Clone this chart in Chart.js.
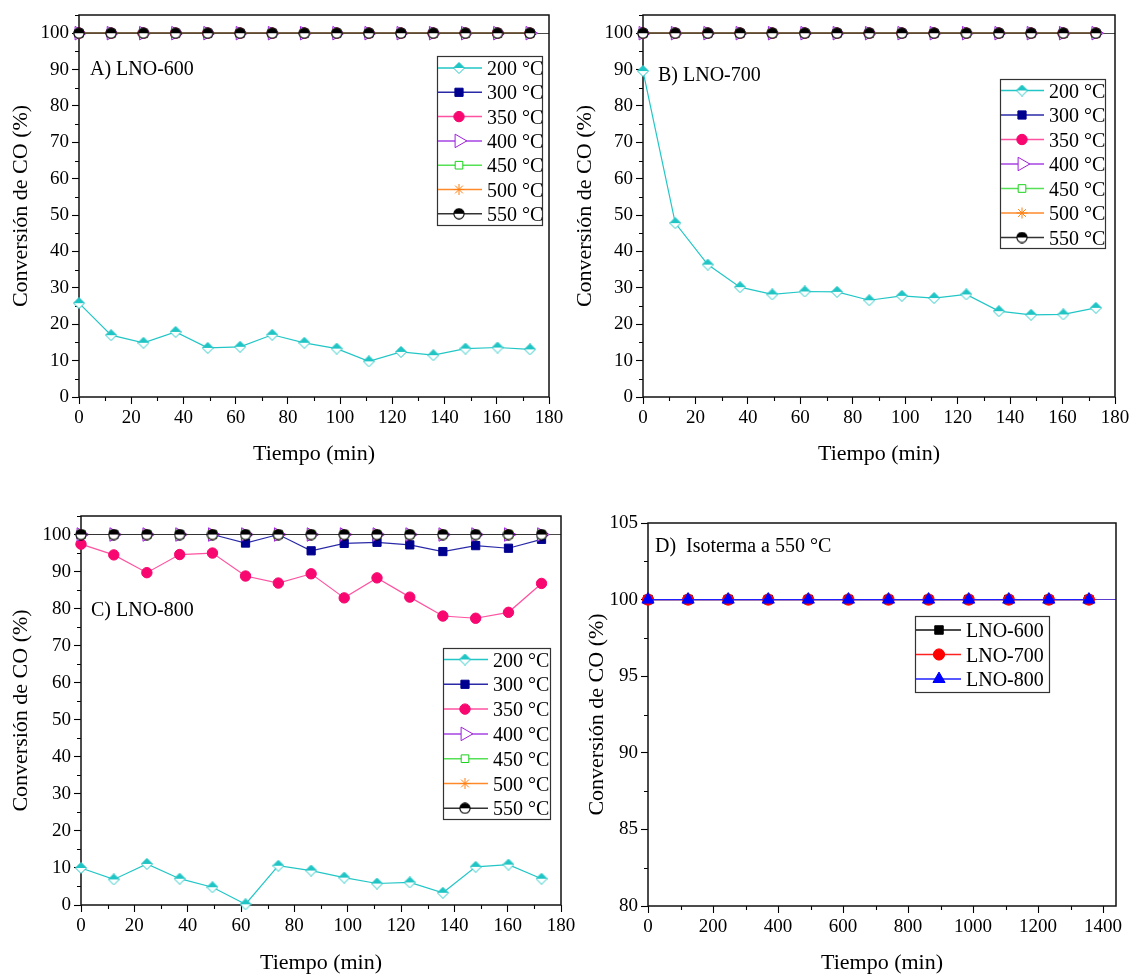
<!DOCTYPE html>
<html lang="es">
<head>
<meta charset="utf-8">
<title>Conversión de CO</title>
<script src="https://cdn.jsdelivr.net/npm/chart.js@4.4.1/dist/chart.umd.min.js"></script>
<style>
  html, body { margin: 0; padding: 0; background: #fff; width: 1133px; height: 975px; overflow: hidden; }
  canvas { position: absolute; }
</style>
</head>
<body>
<canvas id="panelA" width="575" height="480" style="left:0px;top:0px"></canvas>
<canvas id="panelB" width="600" height="480" style="left:566px;top:0px"></canvas>
<canvas id="panelC" width="580" height="520" style="left:0px;top:480px"></canvas>
<canvas id="panelD" width="600" height="520" style="left:566px;top:480px"></canvas>
<script>
// ---- Datos ----
const tiempo = [0, 12.3, 24.7, 37.0, 49.3, 61.7, 74.0, 86.3, 98.7, 111.0, 123.3, 135.7, 148.0, 160.3, 172.7];
const tiempoIsoterma = [0, 123.3, 246.7, 370.0, 493.3, 616.7, 740.0, 863.3, 986.7, 1110.0, 1233.3, 1356.7];

const temperaturas = ['200 °C', '300 °C', '350 °C', '400 °C', '450 °C', '500 °C', '550 °C'];
const muestras = ['LNO-600', 'LNO-700', 'LNO-800'];

// conversión completa (100 %) en cada medida
const conversionTotal = [100, 100, 100, 100, 100, 100, 100, 100, 100, 100, 100, 100, 100, 100, 100];
const conversionTotalIsoterma = [100, 100, 100, 100, 100, 100, 100, 100, 100, 100, 100, 100];

const lno600_200 = [25.8, 17.0, 14.9, 17.9, 13.5, 13.8, 17.1, 14.9, 13.3, 9.8, 12.4, 11.5, 13.3, 13.6, 13.1];
const lno700_200 = [89.6, 47.8, 36.4, 30.2, 28.2, 29.0, 28.9, 26.6, 27.8, 27.2, 28.2, 23.6, 22.6, 22.7, 24.5];
const lno800_200 = [10.0, 6.9, 11.1, 7.1, 4.8, 0.2, 10.6, 9.3, 7.4, 5.8, 6.1, 3.3, 10.3, 10.9, 7.1];
const lno800_300 = [100, 100, 100, 100, 100, 97.7, 100, 95.6, 97.6, 97.9, 97.2, 95.4, 97.0, 96.3, 98.7];
const lno800_350 = [97.4, 94.5, 89.7, 94.6, 95.0, 88.8, 86.9, 89.4, 82.9, 88.3, 83.1, 78.0, 77.4, 79.0, 86.8];

// ---- Ejes ----
const ticksTiempo = [0, 20, 40, 60, 80, 100, 120, 140, 160, 180];
const ticksTiempoMenores = [10, 30, 50, 70, 90, 110, 130, 150, 170];
const ticksConversion = [0, 10, 20, 30, 40, 50, 60, 70, 80, 90, 100];
const ticksConversionMenores = [5, 15, 25, 35, 45, 55, 65, 75, 85, 95, 105];
const ticksIsoterma = [0, 200, 400, 600, 800, 1000, 1200, 1400];
const ticksIsotermaMenores = [100, 300, 500, 700, 900, 1100, 1300];
const ticksConversionD = [80, 85, 90, 95, 100, 105];
const ticksConversionDMenores = [82.5, 87.5, 92.5, 97.5, 102.5];

// ---- Marcadores semirrellenos ----
function marcaDiamante(color) {
  const c = document.createElement('canvas');
  c.width = 12; c.height = 12;
  const g = c.getContext('2d');
  const m = 6, r = 5.5;
  g.beginPath();
  g.moveTo(m, m - r); g.lineTo(m + r, m); g.lineTo(m, m + r); g.lineTo(m - r, m); g.closePath();
  g.fillStyle = '#fff'; g.fill();
  g.save(); g.clip(); g.fillStyle = color; g.fillRect(0, 0, 12, m); g.restore();
  g.strokeStyle = color; g.lineWidth = 1; g.stroke();
  return c;
}
function marcaSemicirculo(color) {
  const c = document.createElement('canvas');
  c.width = 12; c.height = 12;
  const g = c.getContext('2d');
  const m = 6, r = 5.1;
  g.beginPath(); g.arc(m, m, r, 0, Math.PI * 2);
  g.fillStyle = '#fff'; g.fill();
  g.save(); g.clip(); g.fillStyle = color; g.fillRect(0, 0, 12, m); g.restore();
  g.strokeStyle = color; g.lineWidth = 1.1; g.stroke();
  return c;
}

const estilos = {
  '200 °C': { line: '#22c6c6', mark: '#22c6c6', bg: null, style: marcaDiamante('#1fc4c4'), r: 5, rot: 0 },
  '300 °C': { line: '#2a2aa8', mark: '#000090', bg: '#000090', style: 'rect', r: 5.8, rot: 0 },
  '350 °C': { line: '#ff52a0', mark: '#f7076f', bg: '#f7076f', style: 'circle', r: 5.2, rot: 0 },
  '400 °C': { line: '#a645e2', mark: '#9f1fdc', bg: '#ffffff', style: 'triangle', r: 7.8, rot: 90 },
  '450 °C': { line: '#55e055', mark: '#19d219', bg: '#ffffff', style: 'rect', r: 5.4, rot: 0 },
  '500 °C': { line: '#ff8a2a', mark: '#ff7f10', bg: '#ff7f10', style: 'star', r: 5.5, rot: 0 },
  '550 °C': { line: '#333333', mark: '#000000', bg: null, style: marcaSemicirculo('#000'), r: 5, rot: 0 },
  'LNO-600': { line: '#111111', mark: '#000000', bg: '#000000', style: 'rect', r: 6, rot: 0 },
  'LNO-700': { line: '#ff2020', mark: '#ff0000', bg: '#ff0000', style: 'circle', r: 5.6, rot: 0 },
  'LNO-800': { line: '#2020ff', mark: '#0000ff', bg: '#0000ff', style: 'triangle', r: 7, rot: 0 }
};

function serie(label, xs, ys, order) {
  const e = estilos[label];
  return {
    label,
    data: xs.map((t, i) => ({ x: t, y: ys[i] })),
    borderColor: e.line,
    borderWidth: 1.2,
    pointStyle: e.style,
    pointRadius: e.r,
    pointRotation: e.rot,
    pointBackgroundColor: e.bg || e.mark,
    pointBorderColor: e.mark,
    pointBorderWidth: 1,
    tension: 0,
    clip: false,
    order
  };
}

function seriesTemperatura(valores200, extra) {
  const ys = [valores200, conversionTotal, conversionTotal, conversionTotal, conversionTotal, conversionTotal, conversionTotal];
  if (extra) Object.keys(extra).forEach(k => { ys[k] = extra[k]; });
  return temperaturas.map((t, i) => serie(t, tiempo, ys[i], temperaturas.length - 1 - i));
}

// ---- Decoración: marco, ticks menores, rótulo del panel y leyenda ----
const SERIF = "'Liberation Serif', 'Times New Roman', serif";
const decor = {
  id: 'decor',
  beforeDatasetsDraw(chart, args, o) {
    const { ctx, chartArea: a, scales: { x, y } } = chart;
    ctx.save();
    ctx.strokeStyle = '#000';
    ctx.lineWidth = 1.1;
    ctx.beginPath();
    o.minorX.forEach(v => {
      const px = Math.round(x.getPixelForValue(v)) + 0.5;
      ctx.moveTo(px, a.bottom); ctx.lineTo(px, a.bottom + 4);
    });
    o.minorY.forEach(v => {
      const py = Math.round(y.getPixelForValue(v)) + 0.5;
      ctx.moveTo(a.left - 4, py); ctx.lineTo(a.left, py);
    });
    ctx.stroke();
    ctx.lineWidth = 1.5;
    ctx.strokeStyle = '#111';
    ctx.strokeRect(a.left, a.top, a.right - a.left, a.bottom - a.top);
    ctx.restore();
  },
  afterDraw(chart, args, o) {
    const { ctx } = chart;
    ctx.save();
    ctx.fillStyle = '#000';
    ctx.font = '20px ' + SERIF;
    ctx.textAlign = 'left';
    ctx.textBaseline = 'alphabetic';
    ctx.fillText(o.tag.text, o.tag.x, o.tag.y);

    const L = o.legend;
    ctx.fillStyle = '#fff';
    ctx.fillRect(L.x, L.y, L.w, L.h);
    ctx.strokeStyle = '#333';
    ctx.lineWidth = 1.2;
    ctx.strokeRect(L.x + 0.5, L.y + 0.5, L.w, L.h);
    chart.data.datasets.forEach((ds, i) => {
      const ry = L.first + i * L.step;
      ctx.strokeStyle = ds.borderColor;
      ctx.lineWidth = 1.5;
      ctx.beginPath();
      ctx.moveTo(L.x + 1, ry); ctx.lineTo(L.lineEnd, ry);
      ctx.stroke();
      ctx.fillStyle = ds.pointBackgroundColor;
      ctx.strokeStyle = ds.pointBorderColor;
      ctx.lineWidth = ds.pointBorderWidth;
      Chart.helpers.drawPoint(ctx, {
        pointStyle: ds.pointStyle, rotation: ds.pointRotation || 0,
        radius: ds.pointRadius, borderWidth: ds.pointBorderWidth
      }, L.marker, ry);
      ctx.fillStyle = '#000';
      ctx.font = '20px ' + SERIF;
      ctx.fillText(ds.label, L.text, ry + 7);
    });
    ctx.restore();
  }
};

const fTick = { family: SERIF, size: 19 };
const fTitle = { family: SERIF, size: 22 };
const etiqueta = v => String(v);

function panel(id, cfg) {
  return new Chart(document.getElementById(id), {
    type: 'line',
    data: { datasets: cfg.datasets },
    options: {
      responsive: false,
      animation: false,
      devicePixelRatio: 1,
      events: [],
      layout: { padding: cfg.padding },
      plugins: { legend: { display: false }, tooltip: { enabled: false }, decor: cfg.decor },
      scales: {
        x: {
          type: 'linear', min: cfg.xMin, max: cfg.xMax,
          afterBuildTicks: s => { s.ticks = cfg.xTicks.map(v => ({ value: v })); },
          afterFit: s => { s.height = cfg.xHeight; },
          border: { display: false },
          grid: { drawOnChartArea: false, tickLength: 7, tickColor: '#000', tickWidth: 1.1 },
          ticks: { font: fTick, color: '#000', padding: 3, maxRotation: 0, autoSkip: false, callback: etiqueta },
          title: { display: true, text: 'Tiempo (min)', font: fTitle, color: '#000', padding: { top: 0, bottom: cfg.xTitlePad } }
        },
        y: {
          type: 'linear', min: cfg.yMin, max: cfg.yMax,
          afterBuildTicks: s => { s.ticks = cfg.yTicks.map(v => ({ value: v })); },
          afterFit: s => { s.width = cfg.yWidth; },
          border: { display: false },
          grid: {
            drawOnChartArea: true,
            color: c => (c.tick && c.tick.value === 100) ? cfg.refColor : 'rgba(0,0,0,0)',
            lineWidth: 1,
            tickLength: 7, tickColor: '#000', tickWidth: 1.1
          },
          ticks: { font: fTick, color: '#000', padding: 3, autoSkip: false, callback: etiqueta },
          title: { display: true, text: 'Conversión de CO (%)', font: fTitle, color: '#000', padding: { top: cfg.yTitlePad, bottom: 0 } }
        }
      }
    },
    plugins: [decor]
  });
}

// A) LNO-600
panel('panelA', {
  datasets: seriesTemperatura(lno600_200),
  padding: { left: 0, top: 15, right: 26, bottom: 0 },
  xMin: 0, xMax: 180, xTicks: ticksTiempo, xHeight: 83, xTitlePad: 13,
  yMin: 0, yMax: 105, yTicks: ticksConversion, yWidth: 79, yTitlePad: 8.5,
  refColor: '#4a4a4a',
  decor: {
    minorX: ticksTiempoMenores, minorY: ticksConversionMenores,
    tag: { text: 'A) LNO-600', x: 90, y: 75 },
    legend: { x: 437, y: 56, w: 105, h: 169, first: 68, step: 24.3, lineEnd: 482, marker: 459, text: 487 }
  }
});

// B) LNO-700
panel('panelB', {
  datasets: seriesTemperatura(lno700_200),
  padding: { left: 0, top: 15, right: 51, bottom: 0 },
  xMin: 0, xMax: 180, xTicks: ticksTiempo, xHeight: 83, xTitlePad: 13,
  yMin: 0, yMax: 105, yTicks: ticksConversion, yWidth: 77, yTitlePad: 6.3,
  refColor: '#4a4a4a',
  decor: {
    minorX: ticksTiempoMenores, minorY: ticksConversionMenores,
    tag: { text: 'B) LNO-700', x: 92, y: 81 },
    legend: { x: 434, y: 79, w: 105, h: 169, first: 90.5, step: 24.5, lineEnd: 478, marker: 456, text: 483 }
  }
});

// C) LNO-800
panel('panelC', {
  datasets: seriesTemperatura(lno800_200, { 1: lno800_300, 2: lno800_350 }),
  padding: { left: 0, top: 36, right: 19, bottom: 0 },
  xMin: 0, xMax: 180, xTicks: ticksTiempo, xHeight: 95, xTitlePad: 23.8,
  yMin: 0, yMax: 105, yTicks: ticksConversion, yWidth: 81, yTitlePad: 7.8,
  refColor: '#4a4a4a',
  decor: {
    minorX: ticksTiempoMenores, minorY: ticksConversionMenores,
    tag: { text: 'C) LNO-800', x: 91, y: 136 },
    legend: { x: 443, y: 168, w: 107, h: 171, first: 179.5, step: 24.8, lineEnd: 488, marker: 465, text: 493 }
  }
});

// D) Isoterma a 550 °C
panel('panelD', {
  datasets: muestras.map((m, i) => serie(m, tiempoIsoterma, conversionTotalIsoterma, muestras.length - 1 - i)),
  padding: { left: 0, top: 43, right: 50, bottom: 0 },
  xMin: 0, xMax: 1440, xTicks: ticksIsoterma, xHeight: 94, xTitlePad: 23.8,
  yMin: 80, yMax: 105, yTicks: ticksConversionD, yWidth: 82, yTitlePad: 17.8,
  refColor: '#5a3ccf',
  decor: {
    minorX: ticksIsotermaMenores, minorY: ticksConversionDMenores,
    tag: { text: 'D)  Isoterma a 550 °C', x: 89, y: 72 },
    legend: { x: 349, y: 136, w: 134, h: 76, first: 150, step: 24.5, lineEnd: 395, marker: 373, text: 400 }
  }
});
</script>
</body>
</html>
